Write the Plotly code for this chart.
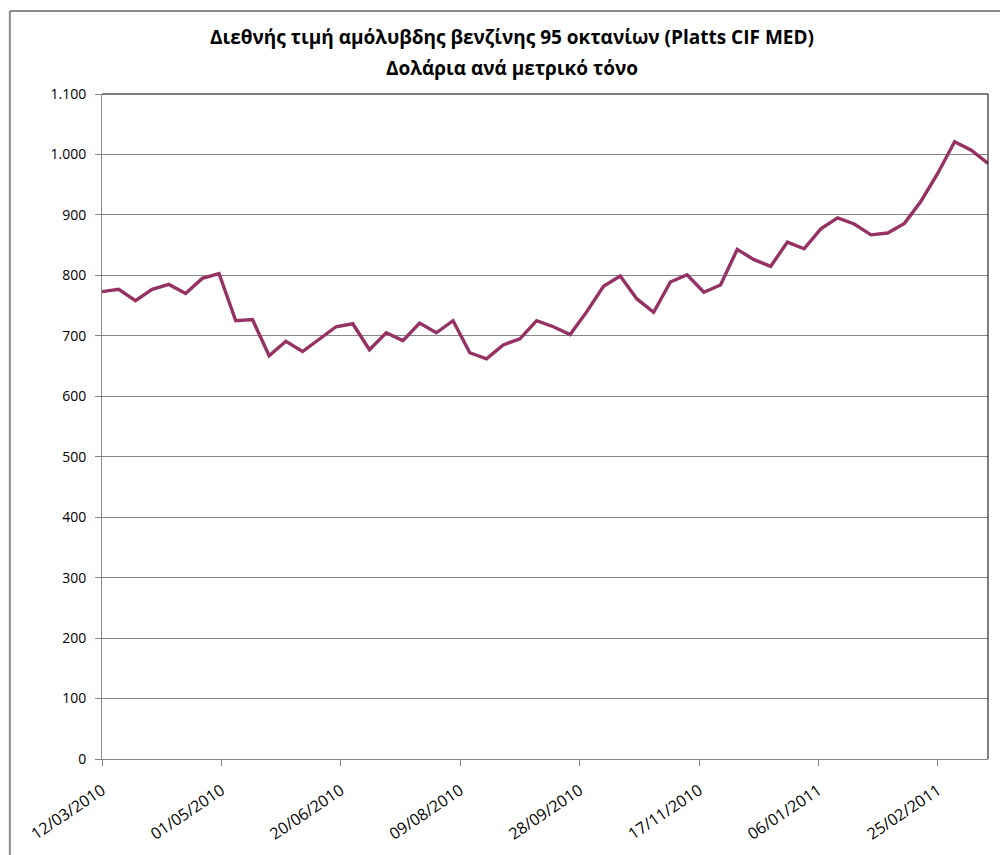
import plotly.graph_objects as go
import pandas as pd

# Weekly price, USD per metric tonne (Platts CIF MED, unleaded 95)
week_start = "2010-03-12"
n_weeks = 54
prices = [
    773, 777, 758, 777, 785, 770, 795, 803, 725, 727,
    667, 691, 674, 694, 715, 720, 677, 705, 692, 721,
    705, 725, 672, 662, 685, 695, 725, 715, 702, 740,
    782, 799, 761, 739, 789, 801, 772, 784, 843, 826,
    815, 855, 844, 877, 895, 885, 867, 870, 886, 923,
    969, 1021, 1007, 985,
]
dates = pd.date_range(week_start, periods=n_weeks, freq="7D")

tick_dates = ["2010-03-12", "2010-05-01", "2010-06-20", "2010-08-09",
              "2010-09-28", "2010-11-17", "2011-01-06", "2011-02-25"]
tick_labels = ["12/03/2010", "01/05/2010", "20/06/2010", "09/08/2010",
               "28/09/2010", "17/11/2010", "06/01/2011", "25/02/2011"]

title_1 = "Διεθνής τιμή αμόλυβδης βενζίνης 95 οκτανίων (Platts CIF MED)"
title_2 = "Δολάρια ανά μετρικό τόνο"

FONT = "Open Sans, Noto Sans, DejaVu Sans, sans-serif"
GRID = "#878787"

fig = go.Figure()
fig.add_trace(go.Scatter(
    x=dates, y=prices,
    mode="lines",
    line=dict(color="#953163", width=3.4),
    showlegend=False,
    hoverinfo="x+y",
))

# chart area frame (top and left edges visible) + plot area top/right border
frame_x = -0.104
fig.add_shape(type="line", xref="paper", yref="paper",
              x0=frame_x, x1=1.04, y0=1.125, y1=1.125,
              line=dict(color="#8c8c8c", width=2))
fig.add_shape(type="line", xref="paper", yref="paper",
              x0=frame_x, x1=frame_x, y0=1.125, y1=-0.16,
              line=dict(color="#8c8c8c", width=2))
fig.add_shape(type="line", xref="paper", yref="paper",
              x0=0, x1=1, y0=1, y1=1, layer="above",
              line=dict(color="black", width=1))
fig.add_shape(type="line", xref="paper", yref="paper",
              x0=1, x1=1, y0=0, y1=1, layer="above",
              line=dict(color="black", width=1))

title_x = (512 - 102) / 886
fig.add_annotation(text=f"<b>{title_1}</b>", xref="paper", yref="paper",
                   x=title_x, xanchor="center", y=1.0857, yanchor="middle",
                   showarrow=False, font=dict(size=19, family=FONT, color="black"))
fig.add_annotation(text=f"<b>{title_2}</b>", xref="paper", yref="paper",
                   x=title_x, xanchor="center", y=1.039, yanchor="middle",
                   showarrow=False, font=dict(size=19, family=FONT, color="black"))

fig.update_layout(
    width=1008, height=855,
    margin=dict(l=94, r=28, t=86, b=104),
    paper_bgcolor="white", plot_bgcolor="white",
    separators=",.",
    font=dict(family=FONT, size=14, color="black"),
    xaxis=dict(
        type="date",
        range=[dates[0], dates[-1]],
        tickvals=tick_dates,
        ticktext=tick_labels,
        tickangle=-34,
        ticks="outside", ticklen=6, tickcolor=GRID,
        showgrid=False, showline=True, linecolor=GRID, linewidth=1,
        ticklabelstandoff=9,
        tickfont=dict(size=16),
    ),
    yaxis=dict(
        range=[0, 1100], dtick=100, tickformat=",d",
        ticks="outside", ticklen=6, tickcolor=GRID,
        showgrid=True, gridcolor=GRID, gridwidth=1,
        showline=True, linecolor=GRID, linewidth=1,
        zeroline=False,
        ticklabelstandoff=6,
        tickfont=dict(size=14),
    ),
)

fig.write_html("out.html")
